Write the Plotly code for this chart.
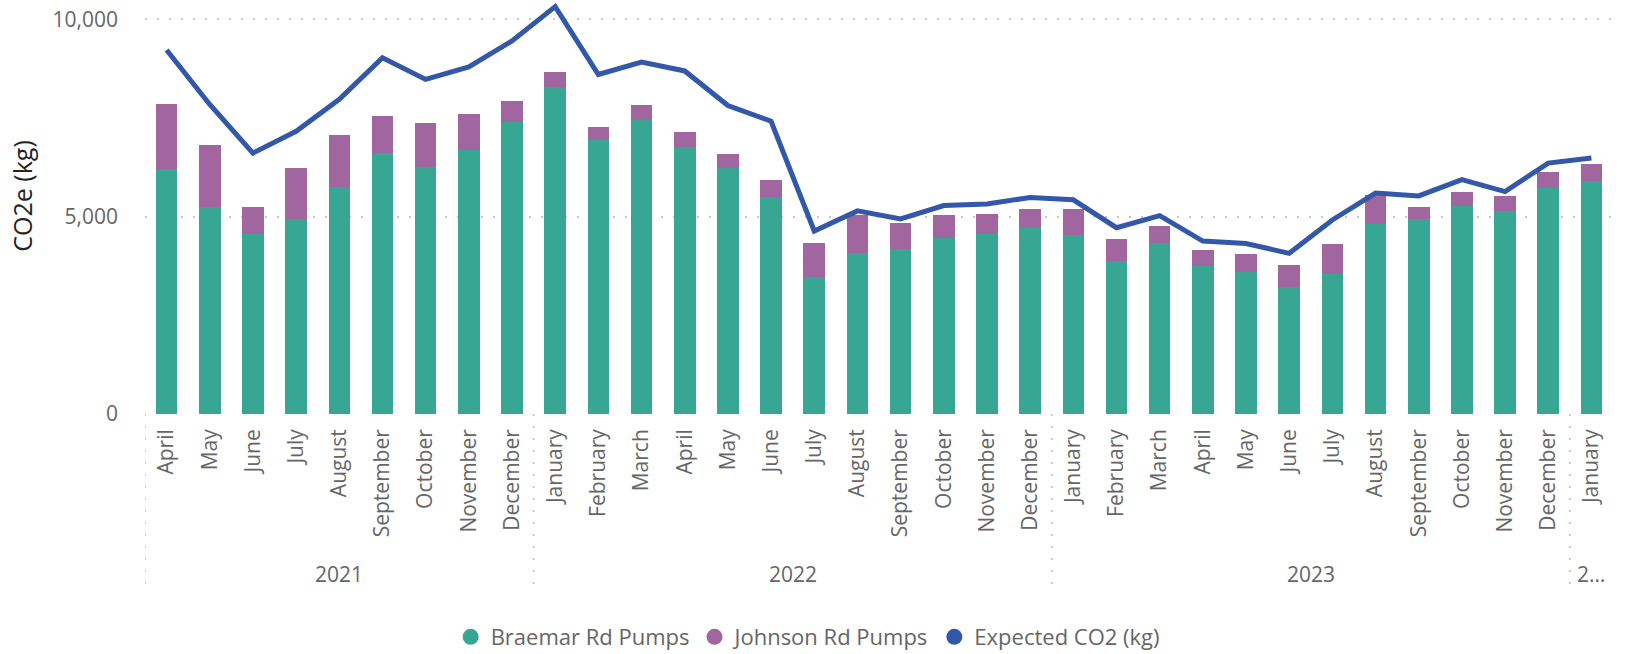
import plotly.graph_objects as go

# Monthly pump emissions, April 2021 - January 2024
years = [2021] * 9 + [2022] * 12 + [2023] * 12 + [2024]
months = [
    "April", "May", "June", "July", "August", "September", "October", "November", "December",
    "January", "February", "March", "April", "May", "June", "July", "August", "September",
    "October", "November", "December",
    "January", "February", "March", "April", "May", "June", "July", "August", "September",
    "October", "November", "December",
    "January",
]
braemar = [
    6200, 5240, 4560, 4940, 5750, 6610, 6255, 6695, 7405,
    8290, 6950, 7460, 6770, 6240, 5490, 3460, 4070, 4170, 4460, 4560, 4710,
    4530, 3865, 4320, 3745, 3595, 3210, 3545, 4815, 4930, 5270, 5135, 5730,
    5900,
]
johnson = [
    1665, 1580, 685, 1300, 1305, 950, 1125, 915, 535,
    365, 330, 355, 385, 355, 440, 870, 975, 670, 585, 510, 485,
    665, 565, 440, 405, 455, 560, 760, 735, 315, 355, 390, 405,
    440,
]
expected = [
    9220, 7840, 6610, 7160, 7970, 9025, 8475, 8790, 9450,
    10320, 8600, 8915, 8690, 7815, 7415, 4635, 5145, 4940, 5280, 5320, 5485,
    5425, 4720, 5025, 4380, 4320, 4070, 4915, 5595, 5525, 5935, 5635, 6355,
    6485,
]
year_labels = ["2021", "2022", "2023", "2\u2026"]

keys = [f"{m} {y}" for m, y in zip(months, years)]

TEAL = "#37A693"
PURPLE = "#A1659F"
BLUE = "#3358AA"
FONT = "Open Sans"
GREY_TXT = "#666666"
GRID = "#C8C8C8"
DOTS = "2px,10px"

fig = go.Figure()
fig.add_trace(go.Bar(x=keys, y=braemar, name="Braemar Rd Pumps",
                     marker=dict(color=TEAL, line=dict(width=0)), showlegend=False))
fig.add_trace(go.Bar(x=keys, y=johnson, name="Johnson Rd Pumps",
                     marker=dict(color=PURPLE, line=dict(width=0)), showlegend=False))
fig.add_trace(go.Scatter(x=keys, y=expected, name="Expected CO2 (kg)", mode="lines",
                         line=dict(color=BLUE, width=5), cliponaxis=False,
                         showlegend=False))

# legend entries drawn with round swatches
for name, col in [("Braemar Rd Pumps", TEAL), ("Johnson Rd Pumps", PURPLE),
                  ("Expected CO2 (kg)", BLUE)]:
    fig.add_trace(go.Scatter(x=[None], y=[None], mode="markers", name=name,
                             marker=dict(symbol="circle", size=18, color=col)))

# year group labels and dotted separators below the month labels
groups = []
start = 0
for i in range(1, len(years) + 1):
    if i == len(years) or years[i] != years[start]:
        groups.append((start, i - 1))
        start = i

annotations = []
shapes = []
for (a, b), lab in zip(groups, year_labels):
    annotations.append(dict(x=(a + b) / 2, xref="x", y=-0.386, yref="paper",
                            xanchor="center", yanchor="middle",
                            text=lab, showarrow=False,
                            font=dict(family=FONT, size=21, color=GREY_TXT)))
    shapes.append(dict(type="line", xref="x", yref="paper", x0=a - 0.5, x1=a - 0.5,
                       y0=0, y1=-0.43, line=dict(color=GRID, width=2, dash=DOTS)))

annotations.append(dict(x=-0.0835, xref="paper", y=0.526, yref="paper",
                        xanchor="center", yanchor="middle",
                        text="CO2e (kg)", textangle=-90, showarrow=False,
                        font=dict(family=FONT, size=25, color="#252423")))

fig.update_layout(
    width=1625, height=654,
    margin=dict(l=145, r=12, t=0, b=240),
    paper_bgcolor="white", plot_bgcolor="white",
    barmode="stack", bargap=0.5,
    font=dict(family=FONT, color=GREY_TXT),
    annotations=annotations, shapes=shapes,
    legend=dict(orientation="h", xref="container", yref="container",
                x=0.497, xanchor="center", y=0.026, yanchor="middle",
                font=dict(family=FONT, size=22, color=GREY_TXT),
                traceorder="normal", itemwidth=30, tracegroupgap=0),
    xaxis=dict(type="category", tickvals=keys, ticktext=months, tickangle=-90,
               showgrid=False, zeroline=False, showline=False, ticks="",
               ticklabelstandoff=10,
               tickfont=dict(family=FONT, size=21, color=GREY_TXT),
               range=[-0.5, len(keys) - 0.5], automargin=False),
    yaxis=dict(range=[0, 10487], tickvals=[0, 5000, 10000],
               ticktext=["0", "5,000", "10,000"],
               showgrid=True, gridcolor=GRID, griddash=DOTS, gridwidth=2,
               zeroline=False, showline=False, ticks="",
               ticklabelstandoff=26,
               tickfont=dict(family=FONT, size=21, color=GREY_TXT),
               automargin=False),
)

fig.write_html("out.html")
